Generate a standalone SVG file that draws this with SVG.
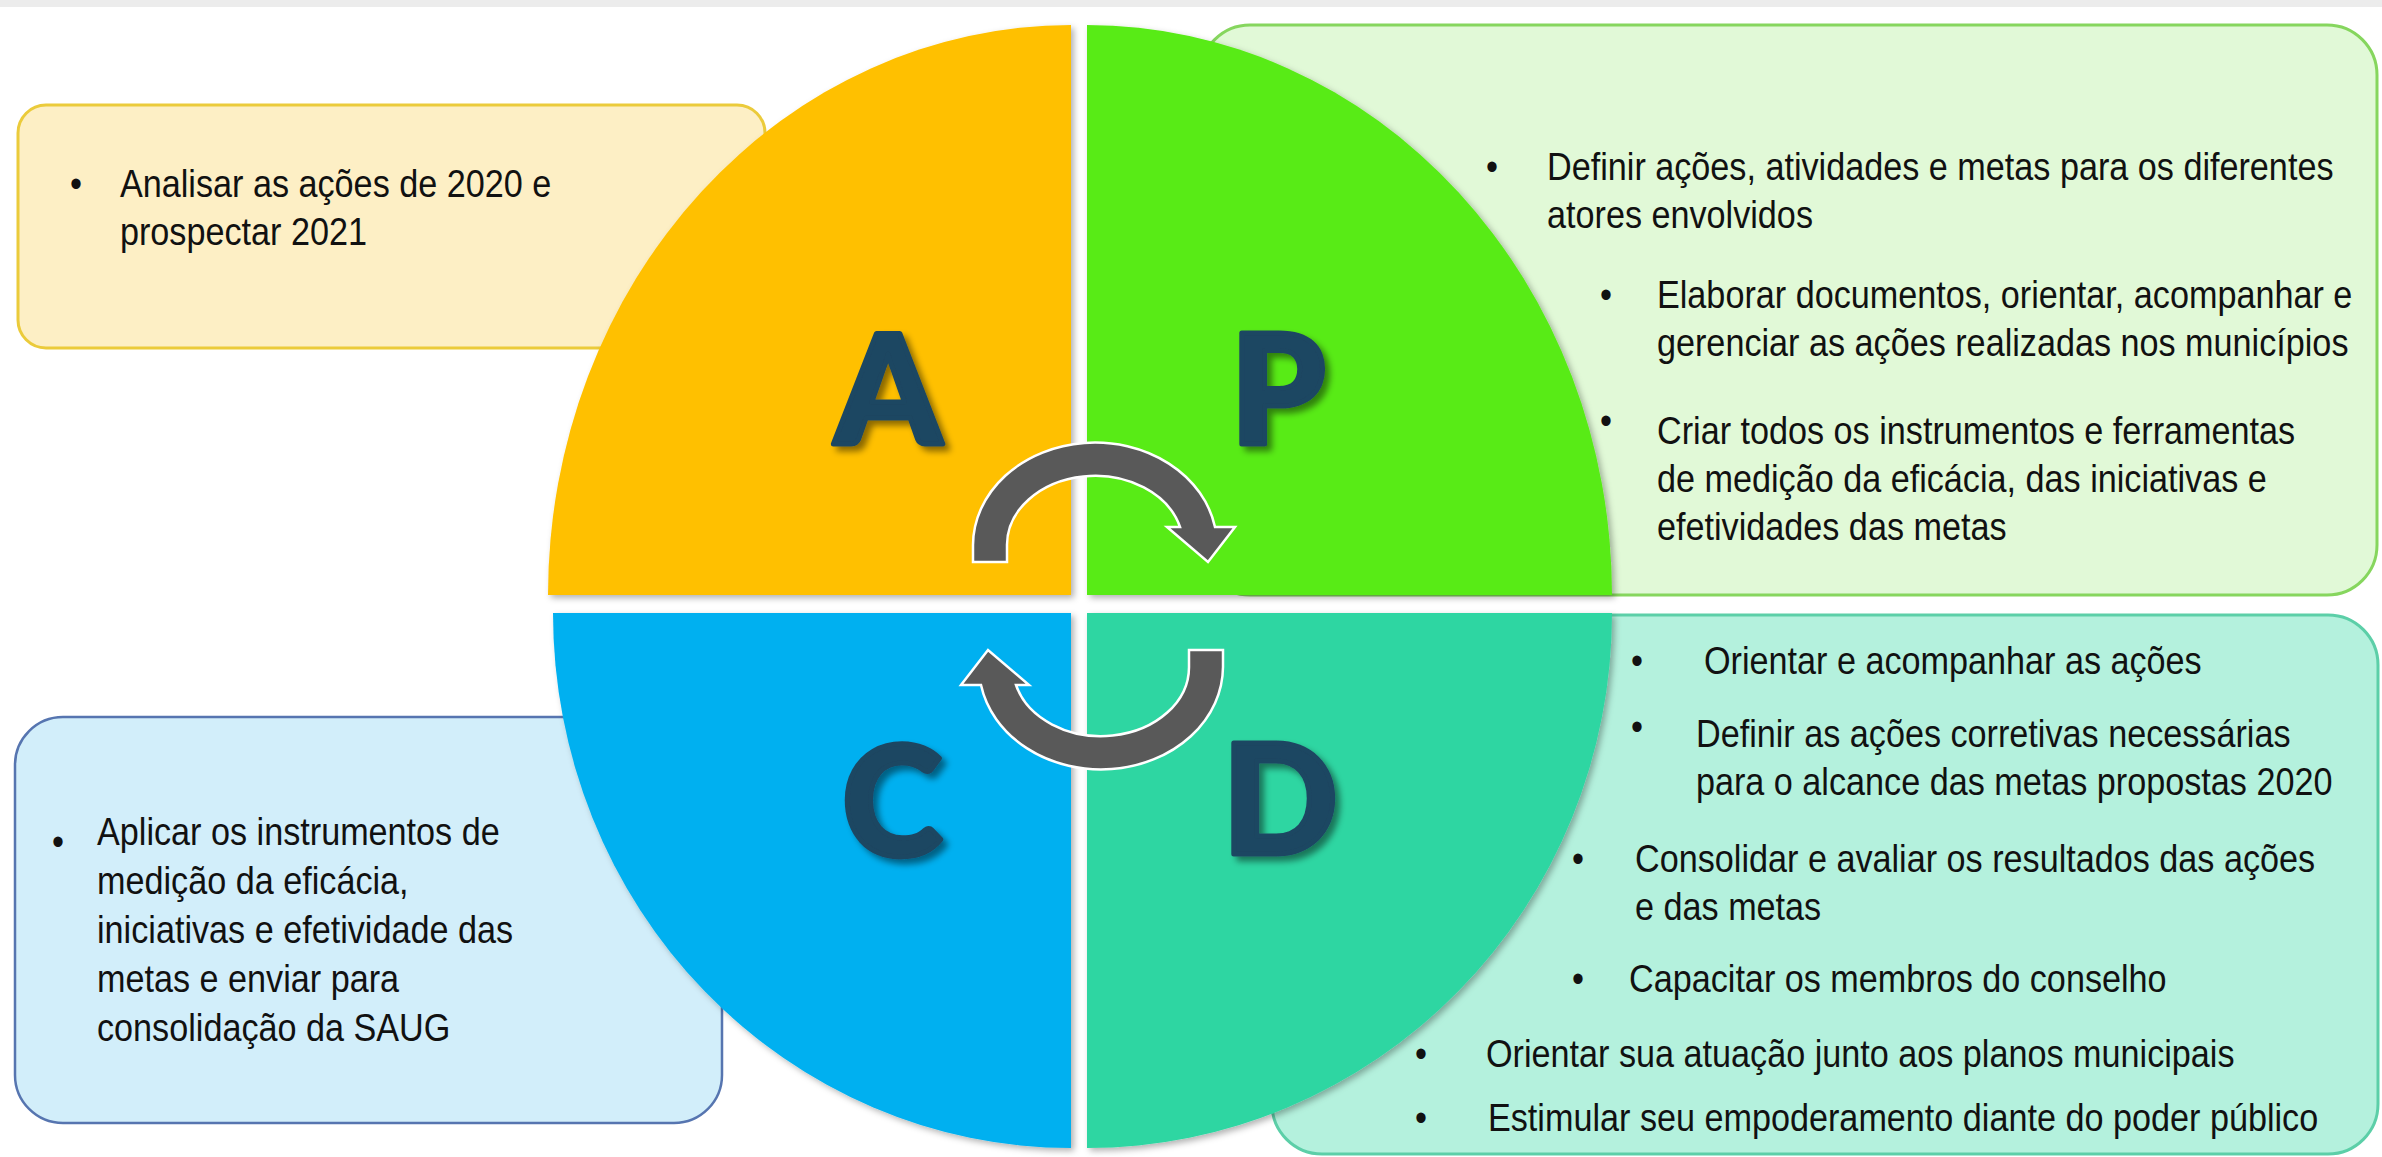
<svg xmlns="http://www.w3.org/2000/svg" xmlns:xlink="http://www.w3.org/1999/xlink" width="2382" height="1157" viewBox="0 0 2382 1157">
<style>
.t{font-family:"Liberation Sans",Arial,sans-serif;font-size:38px;fill:#111}
.b{text-anchor:middle}
.big{font-family:"Lato","Roboto","Inter","Liberation Sans",sans-serif;font-weight:900;font-size:152px;fill:#1F4662;stroke:#1F4662;stroke-width:5;stroke-linejoin:round;text-anchor:middle}
.cyc{fill:#595959;stroke:#fff;stroke-width:2.5;stroke-linejoin:miter}
</style>
<defs>
<filter id="qs" x="-5%" y="-5%" width="112%" height="112%">
<feDropShadow dx="3" dy="3" stdDeviation="3" flood-color="#000" flood-opacity="0.3"/>
</filter>
<filter id="ls" x="-20%" y="-20%" width="150%" height="150%">
<feDropShadow dx="5" dy="5" stdDeviation="3" flood-color="#000" flood-opacity="0.45"/>
</filter>
<path id="cycarrow" d="M973 562 L973 545 A122 103 0 0 1 1215 527 L1235 527 L1208 562 L1167 527 L1180 527 A88 69 0 0 0 1007 545 L1007 562 Z"/>
</defs>
<rect x="0" y="0" width="2382" height="1157" fill="#fff"/>
<rect x="0" y="0" width="2382" height="7" fill="#ececec"/>

<g id="box-A">
<rect x="18" y="105" width="747" height="243" rx="28" fill="#FDEFC5" stroke="#EBCB3B" stroke-width="3"/>
<g transform="scale(0.9 1)">
<text class="t b" x="84.4" y="197">•</text>
<text class="t" x="133.3" y="197">Analisar as ações de 2020 e</text>
<text class="t" x="133.3" y="245">prospectar 2021</text>
</g>
</g>

<g id="box-P">
<rect x="1200" y="25" width="1177" height="570" rx="50" fill="#E1F9D7" stroke="#86D65E" stroke-width="3"/>
<g transform="scale(0.9 1)">
<text class="t b" x="1657.8" y="180">•</text>
<text class="t" x="1718.9" y="180">Definir ações, atividades e metas para os diferentes</text>
<text class="t" x="1718.9" y="228">atores envolvidos</text>
<text class="t b" x="1784.4" y="308">•</text>
<text class="t" x="1841.1" y="308">Elaborar documentos, orientar, acompanhar e</text>
<text class="t" x="1841.1" y="356">gerenciar as ações realizadas nos municípios</text>
<text class="t b" x="1784.4" y="434">•</text>
<text class="t" x="1841.1" y="444">Criar todos os instrumentos e ferramentas</text>
<text class="t" x="1841.1" y="492">de medição da eficácia, das iniciativas e</text>
<text class="t" x="1841.1" y="540">efetividades das metas</text>
</g>
</g>

<g id="box-C">
<rect x="15" y="717" width="707" height="406" rx="48" fill="#D2EEFA" stroke="#5675B0" stroke-width="2.5"/>
<g transform="scale(0.9 1)">
<text class="t b" x="64.4" y="855">•</text>
<text class="t" x="107.8" y="845">Aplicar os instrumentos de</text>
<text class="t" x="107.8" y="894">medição da eficácia,</text>
<text class="t" x="107.8" y="943">iniciativas e efetividade das</text>
<text class="t" x="107.8" y="992">metas e enviar para</text>
<text class="t" x="107.8" y="1041">consolidação da SAUG</text>
</g>
</g>

<g id="box-D">
<rect x="1272" y="615" width="1106" height="539" rx="50" fill="#B4F1DD" stroke="#5CCFA8" stroke-width="3"/>
<g transform="scale(0.9 1)">
<text class="t b" x="1818.9" y="674">•</text>
<text class="t" x="1893.3" y="674">Orientar e acompanhar as ações</text>
<text class="t b" x="1818.9" y="740">•</text>
<text class="t" x="1884.4" y="747">Definir as ações corretivas necessárias</text>
<text class="t" x="1884.4" y="795">para o alcance das metas propostas 2020</text>
<text class="t b" x="1753.3" y="872">•</text>
<text class="t" x="1816.7" y="872">Consolidar e avaliar os resultados das ações</text>
<text class="t" x="1816.7" y="920">e das metas</text>
<text class="t b" x="1753.3" y="992">•</text>
<text class="t" x="1810" y="992">Capacitar os membros do conselho</text>
<text class="t b" x="1578.9" y="1067">•</text>
<text class="t" x="1651.1" y="1067">Orientar sua atuação junto aos planos municipais</text>
<text class="t b" x="1578.9" y="1131">•</text>
<text class="t" x="1653.3" y="1131">Estimular seu empoderamento diante do poder público</text>
</g>
</g>

<g id="quadrant-A">
<path d="M1071 595 L548 595 A523 570 0 0 1 1071 25 Z" fill="#FFC000" filter="url(#qs)"/>
<text class="big" x="888" y="444" filter="url(#ls)">A</text>
</g>
<g id="quadrant-P">
<path d="M1087 595 L1087 25 A525 570 0 0 1 1612 595 Z" fill="#58EB17" filter="url(#qs)"/>
<text class="big" x="1278" y="444" filter="url(#ls)">P</text>
</g>
<g id="quadrant-C">
<path d="M1071 613 L553 613 A518 535 0 0 0 1071 1148 Z" fill="#00B0F0" filter="url(#qs)"/>
<text class="big" x="892" y="856" filter="url(#ls)">C</text>
</g>
<g id="quadrant-D">
<path d="M1087 613 L1612 613 A525 535 0 0 1 1087 1148 Z" fill="#2DD6A2" filter="url(#qs)"/>
<text class="big" x="1280" y="854" filter="url(#ls)">D</text>
</g>

<g id="connectors">
<use xlink:href="#cycarrow" href="#cycarrow" class="cyc"/>
<use xlink:href="#cycarrow" href="#cycarrow" class="cyc" transform="rotate(180 1098 606)"/>
</g>
</svg>
